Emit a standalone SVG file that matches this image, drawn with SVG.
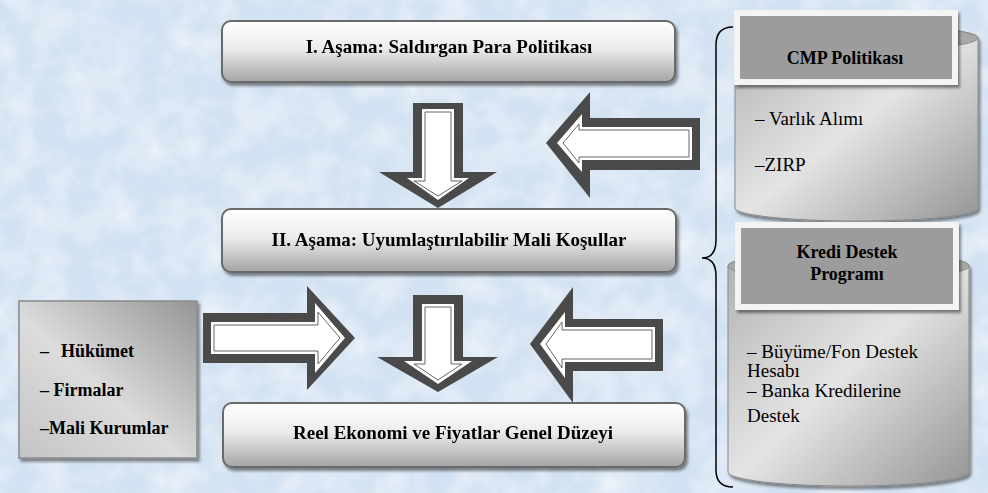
<svg xmlns="http://www.w3.org/2000/svg" width="988" height="493" viewBox="0 0 988 493" font-family="'Liberation Serif', 'Times New Roman', 'DejaVu Serif', serif">
<defs>
<style>
.main{font-size:19px;font-weight:bold;text-anchor:middle}
.hdr{font-size:18px;font-weight:bold;text-anchor:middle}
.item{font-size:19px}
.side{font-size:18px;font-weight:bold}
.box{fill:url(#gBox);stroke:#6a6a6a;stroke-width:2}
.arO{fill:#4a4a4a}
.arW{fill:#fff}
.arI{fill:#fff;stroke:#666;stroke-width:1}
.hdrBox{fill:#9c9c9c;stroke:#f4f4f4;stroke-width:6}
.cyl{fill:url(#gCyl);stroke:#8a8a8a;stroke-width:1}
.cylTop{fill:#a8a8a8;stroke:#8a8a8a;stroke-width:1}
</style>
<linearGradient id="gBox" x1="0" y1="0" x2="0" y2="1">
<stop offset="0" stop-color="#ffffff"/>
<stop offset="0.45" stop-color="#ececec"/>
<stop offset="1" stop-color="#a4a4a4"/>
</linearGradient>
<linearGradient id="gSide" x1="1" y1="0" x2="0" y2="1">
<stop offset="0" stop-color="#959595"/>
<stop offset="0.55" stop-color="#dcdcdc"/>
<stop offset="1" stop-color="#c4c4c4"/>
</linearGradient>
<linearGradient id="gCyl" x1="0" y1="0" x2="1" y2="1">
<stop offset="0" stop-color="#b0b0b0"/>
<stop offset="0.5" stop-color="#e4e4e4"/>
<stop offset="1" stop-color="#959595"/>
</linearGradient>
<filter id="sh" x="-10%" y="-10%" width="130%" height="140%">
<feDropShadow dx="2" dy="3" stdDeviation="1.5" flood-color="#000" flood-opacity="0.45"/>
</filter>
<filter id="tex" x="0" y="0" width="100%" height="100%">
<feTurbulence type="fractalNoise" baseFrequency="0.03" numOctaves="3" seed="7"/>
<feColorMatrix type="matrix" values="0 0 0 0 1  0 0 0 0 1  0 0 0 0 1  0 0 0 1.1 -0.4"/>
</filter>
</defs>
<rect width="988" height="493" fill="#d3e2f2"/>
<rect width="988" height="493" filter="url(#tex)" opacity="0.9"/>

<g id="connectors">
<g id="arrow-top-down">
<polygon class="arO" points="413,103 463,103 463,172 497,172 438,208 379,172 413,172"/>
<polygon class="arW" points="422,109 454,109 454,178 469,178 438,200 407,178 422,178"/>
<polygon class="arI" points="425,112 451,112 451,181 462,181 438,196 414,181 425,181"/>
</g>
<g id="arrow-top-left">
<polygon class="arO" points="546,143 590,92 590,118 700,118 700,170 590,170 590,198"/>
<polygon class="arW" points="557,143 582,114 582,127 692,127 692,160 582,160 582,172"/>
<polygon class="arI" points="563,143 579,124 579,130 689,130 689,157 579,157 579,163"/>
</g>
<g id="arrow-bottom-right">
<polygon class="arO" points="203,313 307,313 307,286 355,338 307,390 307,363 203,363"/>
<polygon class="arW" points="211,322 315,322 315,303 345,338 315,373 315,354 211,354"/>
<polygon class="arI" points="214,325 318,325 318,312 340,338 318,364 318,351 214,351"/>
</g>
<g id="arrow-bottom-down">
<polygon class="arO" points="413,295 463,295 463,357 498,357 438,392 377,357 413,357"/>
<polygon class="arW" points="422,304 454,304 454,361 472,361 438,384 404,361 422,361"/>
<polygon class="arI" points="425,307 451,307 451,364 462,364 438,380 414,364 425,364"/>
</g>
<g id="arrow-bottom-left">
<polygon class="arO" points="530,344 573,287 573,319 663,319 663,371 573,371 573,403"/>
<polygon class="arW" points="540,344 565,312 565,327 655,327 655,362 565,362 565,378"/>
<polygon class="arI" points="546,344 562,322 562,330 652,330 652,359 562,359 562,368"/>
</g>
<path id="brace" d="M733,27 Q716,27 716,45 L716,240 Q716,258 702,258 Q716,258 716,276 L716,470 Q716,487 733,487" fill="none" stroke="#000" stroke-width="1.5"/>
</g>

<g id="node-asama1" filter="url(#sh)">
<rect class="box" x="222" y="21" width="453" height="61" rx="9"/>
<text class="main" x="449" y="53">I. Aşama: Saldırgan Para Politikası</text>
</g>
<g id="node-asama2" filter="url(#sh)">
<rect class="box" x="222" y="209" width="454" height="63" rx="9"/>
<text class="main" x="449" y="246">II. Aşama: Uyumlaştırılabilir Mali Koşullar</text>
</g>
<g id="node-reel" filter="url(#sh)">
<rect class="box" x="223" y="403" width="462" height="64" rx="9"/>
<text class="main" x="453" y="439">Reel Ekonomi ve Fiyatlar Genel Düzeyi</text>
</g>
<g id="node-aktorler">
<rect x="19" y="301" width="178" height="157" fill="url(#gSide)" stroke="#8a8a8a" stroke-width="1.5" filter="url(#sh)"/>
<text class="side" y="357"><tspan x="40">–</tspan><tspan x="61">Hükümet</tspan></text>
<text class="side" x="40" y="396">– Firmalar</text>
<text class="side" x="40" y="434">–Mali Kurumlar</text>
</g>
<g id="node-cmp">
<path class="cyl" d="M735,38 A121.5,13 0 0 1 978,38 L978,208 A121.5,13 0 0 1 735,208 Z" filter="url(#sh)"/>
<ellipse class="cylTop" cx="856.5" cy="38" rx="121.5" ry="13"/>
<rect class="hdrBox" x="737" y="13" width="218" height="69" filter="url(#sh)"/>
<text class="hdr" x="845" y="64">CMP Politikası</text>
<text class="item" x="755" y="125">– Varlık Alımı</text>
<text class="item" x="755" y="171">–ZIRP</text>
</g>
<g id="node-kredi">
<path class="cyl" d="M728,266 A120.5,14 0 0 1 969,266 L969,472 A120.5,14 0 0 1 728,472 Z" filter="url(#sh)"/>
<ellipse class="cylTop" cx="848.5" cy="266" rx="120.5" ry="14"/>
<rect class="hdrBox" x="738" y="225" width="218" height="82" filter="url(#sh)"/>
<text class="hdr" x="847" y="258">Kredi Destek</text>
<text class="hdr" x="847" y="280">Programı</text>
<text class="item" x="747" y="358">– Büyüme/Fon Destek</text>
<text class="item" x="747" y="377">Hesabı</text>
<text class="item" x="747" y="397">– Banka Kredilerine</text>
<text class="item" x="747" y="422">Destek</text>
</g>
</svg>
